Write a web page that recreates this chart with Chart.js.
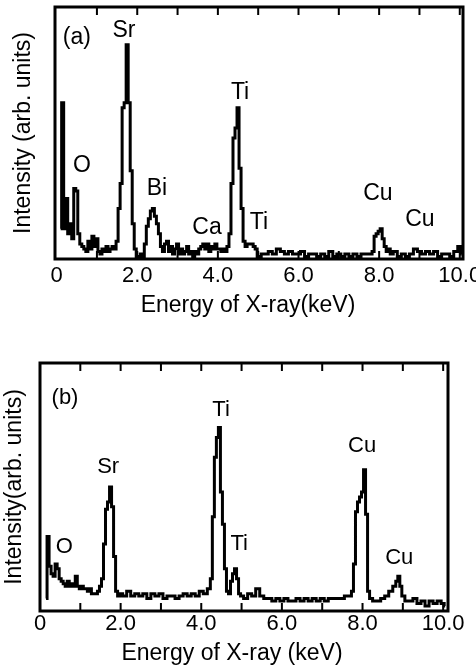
<!DOCTYPE html>
<html>
<head>
<meta charset="utf-8">
<script src="https://cdn.jsdelivr.net/npm/chart.js@4.4.0/dist/chart.umd.min.js"></script>
<style>
  html, body { margin: 0; padding: 0; background: #fff; }
  .panel { position: absolute; left: 0; }
  #panelA { top: 0; }
  #panelB { top: 330px; }
</style>
</head>
<body>
<div class="panel" id="panelA"><canvas id="spectrumA" width="476" height="330"></canvas></div>
<div class="panel" id="panelB"><canvas id="spectrumB" width="476" height="341"></canvas></div>
<script>
const FONT = '"Liberation Sans", Arial, Helvetica, sans-serif';

// x axis labels and inner tick marks (keV)
const xTickValues = [0, 2, 4, 6, 8, 10];
const xMinorTicks = [1, 2, 3, 4, 5, 6, 7, 8, 9, 10];

// (a) spectrum
const energyA = [
  0.10, 0.15, 0.20, 0.25, 0.30, 0.35, 0.40, 0.45, 0.50, 0.55, 0.60, 0.65, 0.70, 0.75, 0.80, 0.85, 0.90, 0.95,
  1.00, 1.05, 1.10, 1.15, 1.20, 1.25, 1.30, 1.35, 1.40, 1.45, 1.50, 1.55, 1.60, 1.65, 1.70, 1.75, 1.80, 1.85, 1.90, 1.95,
  2.00, 2.05, 2.10, 2.15, 2.20, 2.25, 2.30, 2.35, 2.40, 2.45, 2.50, 2.55, 2.60, 2.65, 2.70, 2.75, 2.80, 2.85, 2.90, 2.95,
  3.00, 3.05, 3.10, 3.15, 3.20, 3.25, 3.30, 3.35, 3.40, 3.45, 3.50, 3.55, 3.60, 3.65, 3.70, 3.75, 3.80, 3.85, 3.90, 3.95,
  4.00, 4.05, 4.10, 4.15, 4.20, 4.25, 4.30, 4.35, 4.40, 4.45, 4.50, 4.55, 4.60, 4.65, 4.70, 4.75, 4.80, 4.85, 4.90, 4.95,
  5.00, 5.05, 5.10, 5.20, 5.30, 5.40, 5.50, 5.60, 5.70, 5.80, 5.90,
  6.00, 6.10, 6.20, 6.30, 6.40, 6.50, 6.60, 6.70, 6.80, 6.90,
  7.00, 7.10, 7.20, 7.30, 7.40, 7.50, 7.60, 7.70, 7.80, 7.85, 7.90, 7.95,
  8.00, 8.05, 8.10, 8.15, 8.20, 8.25, 8.30, 8.40, 8.50, 8.60, 8.70, 8.80, 8.90,
  9.00, 9.10, 9.20, 9.30, 9.40, 9.50, 9.60, 9.70, 9.80, 9.90, 10.00, 10.05
];
const intensityA = [
  12, 62, 12, 24, 10, 14, 8, 28, 27, 10, 6, 5, 4, 3, 7, 4, 9, 5,
  8, 3, 2, 4, 3, 5, 3, 4, 5, 4, 7, 20, 30, 60, 62, 85, 62, 35, 14, 4,
  1, 1, 2, 1, 6, 13, 16, 19, 20, 17, 14, 10, 5, 3, 6, 7, 3, 5, 2, 4,
  6, 2, 4, 2, 3, 5, 2, 3, 1, 3, 2, 4, 5, 6, 4, 6, 3, 5, 4, 6,
  4, 4, 3, 4, 3, 5, 10, 30, 48, 52, 60, 36, 20, 7, 5, 6, 6, 6, 5, 4,
  1, 1, 2, 2, 3, 2, 4, 3, 2, 3, 2,
  2, 3, 1, 2, 2, 1, 2, 1, 3, 1,
  2, 1, 2, 1, 2, 1, 2, 2, 2, 3, 9, 10,
  11, 12, 8, 5, 3, 4, 2, 3, 1, 2, 1, 2, 4,
  3, 2, 3, 2, 3, 1, 2, 2, 1, 3, 5, 2
];
const peakNamesA = ['(a)', 'Sr', 'O', 'Bi', 'Ca', 'Ti', 'Ti', 'Cu', 'Cu'];
const peakSpotsA = [[0.50, 88], [1.67, 90.5], [0.63, 37], [2.49, 28], [3.73, 12.5], [4.55, 66], [5.02, 14.5], [7.97, 26], [9.01, 15.5]];

// (b) spectrum
const energyB = [
  0.15, 0.20, 0.25, 0.30, 0.35, 0.40, 0.45, 0.50, 0.55, 0.60, 0.65, 0.70, 0.75, 0.80, 0.85, 0.90, 0.95,
  1.00, 1.05, 1.10, 1.15, 1.20, 1.25, 1.30, 1.35, 1.40, 1.45, 1.50, 1.55, 1.60, 1.65, 1.70, 1.75, 1.80, 1.85, 1.90, 1.95,
  2.00, 2.10, 2.20, 2.30, 2.40, 2.50, 2.60, 2.70, 2.80, 2.90,
  3.00, 3.10, 3.20, 3.30, 3.40, 3.50, 3.60, 3.70, 3.80, 3.90,
  4.00, 4.10, 4.20, 4.25, 4.30, 4.35, 4.40, 4.45, 4.50, 4.55, 4.60, 4.65, 4.70, 4.75, 4.80, 4.85, 4.90, 4.95,
  5.00, 5.10, 5.20, 5.30, 5.40, 5.50, 5.60, 5.70, 5.80, 5.90,
  6.00, 6.10, 6.20, 6.30, 6.40, 6.50, 6.60, 6.70, 6.80, 6.90,
  7.00, 7.10, 7.20, 7.30, 7.40, 7.50, 7.60, 7.70, 7.75, 7.80, 7.85, 7.90, 7.95,
  8.00, 8.05, 8.10, 8.15, 8.20, 8.30, 8.40, 8.50, 8.60, 8.70, 8.80, 8.85, 8.90, 8.95,
  9.00, 9.10, 9.20, 9.30, 9.40, 9.50, 9.60, 9.70, 9.80, 9.90, 10.00, 10.05
];
const intensityB = [
  5, 30, 18, 15, 14, 19, 17, 13, 12, 11, 10, 12, 10, 11, 10, 14, 10,
  9, 10, 9, 9, 8, 9, 7, 7, 7, 8, 10, 13, 27, 41, 44, 50, 42, 22, 8, 6,
  7, 6, 8, 6, 7, 6, 7, 5, 7, 6,
  7, 5, 6, 6, 5, 6, 7, 6, 7, 6,
  8, 7, 9, 13, 38, 62, 70, 74, 48, 35, 17, 8, 7, 12, 15, 17, 13, 7,
  6, 5, 7, 6, 9, 6, 5, 5, 4, 5,
  4, 5, 4, 4, 5, 4, 5, 4, 5, 4,
  5, 4, 5, 5, 5, 5, 6, 6, 8, 19, 40, 44, 46,
  48, 57, 39, 8, 5, 4, 4, 5, 6, 8, 10, 12, 14, 10,
  6, 4, 4, 5, 3, 4, 2, 4, 3, 4, 3, 2
];
const peakNamesB = ['(b)', 'Sr', 'Ti', 'O', 'Ti', 'Cu', 'Cu'];
const peakSpotsB = [[0.62, 86], [1.69, 58], [4.49, 81], [0.60, 26], [4.94, 27], [7.99, 66.5], [8.91, 21.5]];

// frame, inward ticks and peak names drawn on the library's scales
function makeFrame(names, spots, fontSize) {
  return {
    id: 'frame',
    afterDatasetsDraw(chart) {
      const { ctx, chartArea: a, scales: { x, y } } = chart;
      ctx.save();
      ctx.strokeStyle = '#000';
      ctx.lineWidth = 3;
      ctx.strokeRect(a.left, a.top, a.right - a.left, a.bottom - a.top);
      ctx.lineWidth = 2;
      ctx.beginPath();
      xMinorTicks.forEach(v => {
        const px = x.getPixelForValue(v);
        ctx.moveTo(px, a.top); ctx.lineTo(px, a.top + 8);
        ctx.moveTo(px, a.bottom); ctx.lineTo(px, a.bottom - 8);
      });
      ctx.stroke();
      ctx.fillStyle = '#000';
      ctx.font = fontSize + 'px ' + FONT;
      ctx.textAlign = 'center';
      ctx.textBaseline = 'middle';
      names.forEach((t, i) => {
        ctx.fillText(t, x.getPixelForValue(spots[i][0]), y.getPixelForValue(spots[i][1]));
      });
      ctx.restore();
    }
  };
}

function buildPanel(id, energy, intensity, names, spots, g) {
  return new Chart(document.getElementById(id), {
    type: 'line',
    data: {
      datasets: [{
        data: energy.map((e, i) => ({ x: e, y: intensity[i] })),
        borderColor: '#000',
        borderWidth: 3,
        pointRadius: 0,
        stepped: 'middle',
        fill: false
      }]
    },
    options: {
      responsive: false,
      animation: false,
      devicePixelRatio: 1,
      layout: { padding: { left: g.padL, right: g.padR, top: g.padT, bottom: 0 } },
      plugins: {
        legend: { display: false },
        tooltip: { enabled: false },
        title: {
          display: true, position: 'bottom', text: g.xTitle, color: '#000',
          font: { family: FONT, size: 23, weight: 'normal', lineHeight: 1 },
          padding: { top: 0, bottom: g.xTitlePad }
        }
      },
      scales: {
        x: {
          type: 'linear', min: g.xMin, max: g.xMax,
          grid: { display: false, drawTicks: false },
          border: { display: false },
          afterBuildTicks: s => { s.ticks = xTickValues.map(v => ({ value: v })); },
          afterFit: s => { s.height = g.xAxisH; s.paddingLeft = 0; s.paddingRight = 0; },
          ticks: {
            autoSkip: false, maxRotation: 0, padding: g.tickPad, color: '#000',
            font: { family: FONT, size: 22, lineHeight: 1 },
            callback: v => v === 0 ? '0' : v.toFixed(1)
          }
        },
        y: {
          min: 0, max: 100,
          grid: { display: false, drawTicks: false },
          border: { display: false },
          ticks: { display: false },
          afterFit: s => { s.width = g.yAxisW; },
          title: {
            display: true, text: g.yTitle, color: '#000',
            font: { family: FONT, size: 23, lineHeight: 1 },
            padding: { top: g.yTitlePad, bottom: 0 }
          }
        }
      }
    },
    plugins: [makeFrame(names, spots, g.nameSize)]
  });
}

buildPanel('spectrumA', energyA, intensityA, peakNamesA, peakSpotsA, {
  padL: 33, padR: 13, padT: 7, yAxisW: 22, xAxisH: 35,
  xMin: -0.04, xMax: 10.08, tickPad: 5.5, xTitlePad: 13, yTitlePad: -20.5,
  xTitle: 'Energy of X-ray(keV)', yTitle: 'Intensity (arb. units)', nameSize: 23
});

buildPanel('spectrumB', energyB, intensityB, peakNamesB, peakSpotsB, {
  padL: 16, padR: 28, padT: 33, yAxisW: 24, xAxisH: 31,
  xMin: 0, xMax: 10.12, tickPad: 1.5, xTitlePad: 6, yTitlePad: -12.5,
  xTitle: 'Energy of X-ray (keV)', yTitle: 'Intensity(arb. units)', nameSize: 22
});
</script>
</body>
</html>
